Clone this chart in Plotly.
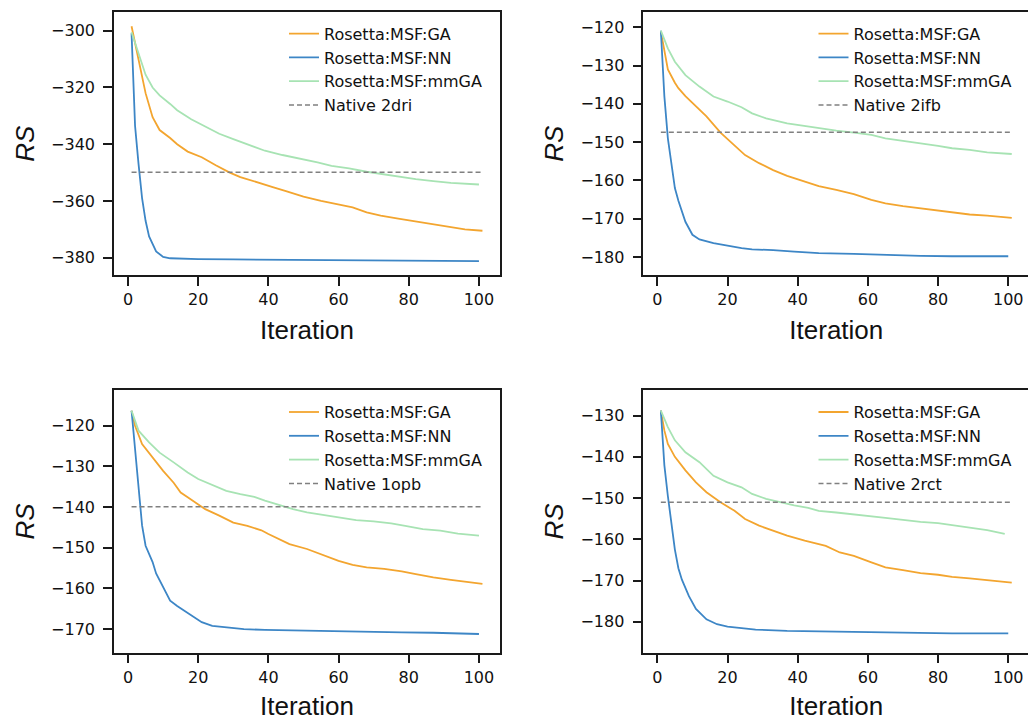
import plotly.graph_objects as go
from plotly.subplots import make_subplots

# ---------------- data ----------------
series_names = ["Rosetta:MSF:GA", "Rosetta:MSF:NN", "Rosetta:MSF:mmGA"]
proteins = ["2dri", "2ifb", "1opb", "2rct"]
xtick_vals = [0, 20, 40, 60, 80, 100]

# Panel 2dri
ga_x_2dri = [1, 2, 3, 5, 7, 9, 12, 14, 17, 21, 25, 29, 32, 36, 41, 45, 50, 55, 60, 64, 68, 72, 77, 82, 87, 92, 96, 101]
ga_y_2dri = [-298.4, -304.5, -310.5, -322, -330.5, -335, -337.8, -340, -342.6, -344.6, -347.4, -350, -351.6, -353,
             -355, -356.5, -358.5, -360, -361.2, -362.3, -364, -365.2, -366.2, -367.2, -368.2, -369.2, -370, -370.5]
nn_x_2dri = [1, 2, 3, 4, 5, 6, 8, 10, 12, 15, 20, 30, 40, 50, 60, 70, 80, 90, 100]
nn_y_2dri = [-300.9, -333.5, -347, -359, -367, -372.5, -377.8, -379.7, -380.2, -380.4, -380.5, -380.6, -380.7,
             -380.7, -380.7, -380.8, -380.9, -381.0, -381.2]
mm_x_2dri = [1, 3, 5, 7, 9, 12, 14, 18, 22, 26, 30, 35, 39, 44, 49, 54, 58, 63, 68, 73, 77, 82, 87, 92, 100]
mm_y_2dri = [-300.5, -308, -315.5, -320, -322.8, -325.8, -328, -331.2, -333.8, -336.3, -338.2, -340.6, -342.3,
             -343.8, -345, -346.4, -347.6, -348.5, -349.7, -350.6, -351.5, -352.3, -353, -353.6, -354.2]
native_2dri = -349.9

# Panel 2ifb
ga_x_2ifb = [1, 2, 3, 5, 6, 8, 11, 14, 18, 22, 25, 29, 33, 37, 42, 46, 51, 56, 61, 65, 70, 75, 80, 84, 89, 94, 101]
ga_y_2ifb = [-121.1, -126.5, -131, -134.5, -135.9, -138, -140.7, -143.3, -147.5, -151, -153.4, -155.5, -157.3,
             -158.8, -160.3, -161.5, -162.5, -163.6, -165.1, -166, -166.7, -167.3, -168, -168.4, -168.9, -169.2, -169.8]
nn_x_2ifb = [1, 2, 3, 4, 5, 6, 7, 8, 10, 12, 16, 20, 24, 27, 33, 39, 46, 56, 65, 75, 84, 100]
nn_y_2ifb = [-120.9, -138, -149, -156, -162, -165.3, -168, -170.8, -174.2, -175.4, -176.4, -177.1, -177.7, -178,
             -178.2, -178.6, -179, -179.2, -179.5, -179.7, -179.8, -179.8]
mm_x_2ifb = [1, 3, 5, 8, 12, 16, 20, 24, 27, 31, 37, 42, 46, 51, 56, 61, 65, 70, 75, 80, 84, 89, 94, 101]
mm_y_2ifb = [-120.9, -125.5, -129, -132.5, -135.5, -138.1, -139.4, -140.9, -142.5, -143.8, -145.1, -145.8, -146.4,
             -147, -147.5, -148.1, -149, -149.6, -150.3, -151, -151.6, -152, -152.7, -153.1]
native_2ifb = -147.4

# Panel 1opb
ga_x_1opb = [1, 2, 4, 7, 10, 13, 15, 17, 20, 22, 26, 30, 34, 38, 40, 43, 46, 51, 56, 60, 64, 68, 73, 78, 82, 87, 92, 97, 101]
ga_y_1opb = [-116.3, -120, -124.5, -127.8, -131.1, -134, -136.4, -137.6, -139.3, -140.5, -142.1, -143.8, -144.6,
             -145.7, -146.6, -147.9, -149.1, -150.3, -152, -153.2, -154.2, -154.8, -155.2, -155.8, -156.5, -157.3,
             -157.9, -158.5, -158.9]
nn_x_1opb = [1, 2, 3, 4, 5, 7, 8, 10, 12, 14, 17, 19, 21, 24, 28, 33, 39, 49, 59, 68, 78, 87, 100]
nn_y_1opb = [-116.3, -125.5, -134, -144.5, -149.5, -153.5, -156.3, -159.8, -163, -164.3, -166, -167.2, -168.3,
             -169.2, -169.6, -170, -170.2, -170.4, -170.6, -170.7, -170.8, -170.9, -171.2]
mm_x_1opb = [1, 3, 6, 9, 13, 17, 20, 24, 28, 32, 36, 39, 43, 47, 51, 56, 60, 65, 70, 75, 79, 84, 89, 94, 100]
mm_y_1opb = [-116.3, -121.2, -124.1, -126.6, -129, -131.5, -133.1, -134.6, -136, -136.8, -137.5, -138.4, -139.4,
             -140.5, -141.3, -142, -142.5, -143.2, -143.5, -144, -144.6, -145.4, -145.8, -146.5, -147]
native_1opb = -139.9

# Panel 2rct
ga_x_2rct = [1, 2, 3, 5, 8, 11, 14, 18, 22, 25, 29, 33, 37, 42, 46, 48, 52, 56, 61, 65, 70, 75, 80, 84, 89, 94, 101]
ga_y_2rct = [-128.8, -133.6, -136.9, -140, -143.3, -146.2, -148.6, -151, -153.1, -155.1, -156.7, -157.9, -159.1,
             -160.3, -161.1, -161.6, -163.2, -164, -165.6, -166.8, -167.5, -168.2, -168.6, -169.1, -169.5, -169.9, -170.5]
nn_x_2rct = [1, 2, 3, 4, 5, 6, 7, 9, 11, 14, 17, 20, 24, 28, 37, 46, 56, 65, 75, 84, 100]
nn_y_2rct = [-128.8, -142, -149.5, -156, -162.5, -167, -169.8, -173.8, -176.9, -179.4, -180.6, -181.2, -181.5,
             -181.9, -182.2, -182.3, -182.5, -182.6, -182.7, -182.8, -182.8]
mm_x_2rct = [1, 3, 5, 8, 12, 16, 20, 24, 27, 31, 35, 39, 43, 46, 51, 56, 61, 65, 70, 75, 80, 84, 89, 94, 99]
mm_y_2rct = [-128.8, -132.8, -136, -138.9, -141.3, -144.6, -146.2, -147.4, -149, -150.2, -151, -151.8, -152.4,
             -153.1, -153.5, -153.9, -154.3, -154.8, -155.3, -155.8, -156.1, -156.6, -157.1, -157.8, -158.7]
native_2rct = -151.0

native_span = [1, 101]

# ---------------- styling ----------------
colors = ["#F3A52F", "#3D86C6", "#A7E3B3"]
native_color = "#808080"
PAD = 8                      # default page margin of the html body
W, H = 1036 - PAD, 721 - PAD

panels = [
    ("2dri", [(ga_x_2dri, ga_y_2dri), (nn_x_2dri, nn_y_2dri), (mm_x_2dri, mm_y_2dri)], native_2dri, [-386.1, -293.5]),
    ("2ifb", [(ga_x_2ifb, ga_y_2ifb), (nn_x_2ifb, nn_y_2ifb), (mm_x_2ifb, mm_y_2ifb)], native_2ifb, [-184.7, -116.1]),
    ("1opb", [(ga_x_1opb, ga_y_1opb), (nn_x_1opb, nn_y_1opb), (mm_x_1opb, mm_y_1opb)], native_1opb, [-175.8, -111.2]),
    ("2rct", [(ga_x_2rct, ga_y_2rct), (nn_x_2rct, nn_y_2rct), (mm_x_2rct, mm_y_2rct)], native_2rct, [-187.5, -123.8]),
]

# page-pixel boxes of the four axes (left, right, top, bottom)
boxes = [(114, 500, 12.3, 275), (643.3, 1029.3, 12.3, 275),
         (114, 500, 390, 652.7), (643.3, 1029.3, 390, 652.7)]
legend_pos = [(284, 16.7), (813.5, 16.7), (284, 395.1), (813.5, 395.1)]

fig = make_subplots(rows=2, cols=2)

tick_font = dict(family="DejaVu Sans", size=16, color="#111111")
title_font = dict(family="Liberation Sans, Arial", size=26, color="#111111")

for i, (prot, series, native, yrange) in enumerate(panels):
    r, c = i // 2 + 1, i % 2 + 1
    leg = "legend" if i == 0 else f"legend{i + 1}"
    for (xs, ys), name, col in zip(series, series_names, colors):
        fig.add_trace(go.Scatter(x=xs, y=ys, mode="lines", name=name,
                                 line=dict(color=col, width=1.8), legend=leg, showlegend=True),
                      row=r, col=c)
    fig.add_trace(go.Scatter(x=native_span, y=[native, native], mode="lines", name=f"Native {prot}",
                             line=dict(color=native_color, width=1.5, dash="5px,3px"), legend=leg),
                  row=r, col=c)

    l, rr, t, b = [v - PAD for v in boxes[i]]
    axis_common = dict(showline=True, mirror=True, linecolor="#1a1a1a", linewidth=1.5,
                       ticks="outside", ticklen=9, tickwidth=1.5, tickcolor="#1a1a1a",
                       showgrid=False, zeroline=False, tickfont=tick_font)
    fig.update_xaxes(domain=[l / W, rr / W], range=[-4, 106], tickvals=xtick_vals,
                     ticklabelstandoff=0,
                     title=dict(text="Iteration", font=title_font, standoff=13),
                     row=r, col=c, **axis_common)
    fig.update_yaxes(domain=[1 - b / H, 1 - t / H], range=yrange, dtick=10 if i else 20,
                     tickformat="d", ticklabelstandoff=5,
                     title=dict(text="<i>RS</i>", font=title_font, standoff=9),
                     row=r, col=c, **axis_common)

    lx, ly = legend_pos[i]
    fig.update_layout({leg: dict(x=(lx - PAD) / W, y=1 - (ly - PAD) / H, xanchor="left", yanchor="top",
                                 bgcolor="rgba(0,0,0,0)", borderwidth=0,
                                 font=dict(family="DejaVu Sans", size=16, color="#111111"),
                                 itemwidth=30)})

fig.update_layout(width=W, height=H, margin=dict(l=0, r=0, t=0, b=0),
                  paper_bgcolor="white", plot_bgcolor="white")

fig.write_html("out.html")
